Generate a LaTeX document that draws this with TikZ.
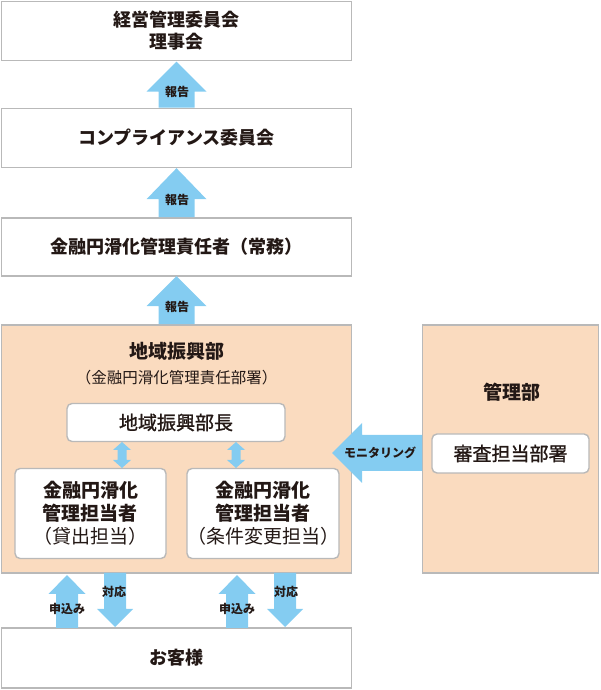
\documentclass[tikz,border=0pt]{standalone}
\usepackage{fontspec}
\setmainfont{Noto Sans CJK JP}
\newfontfamily\jpmed{Noto Sans CJK JP}[FakeBold=1.2]
\usepackage{tikz}

\definecolor{ink}{HTML}{231815}
\definecolor{boxgray}{HTML}{B9B9B9}
\definecolor{peach}{HTML}{FADBBF}
\definecolor{skyarrow}{HTML}{84CCF1}

% block arrows: base, shaft half width, head half width, shaft length, head length
\newcommand{\blkup}[5]{\fill[skyarrow] ([xshift=-#2pt]#1) -- ++(0,#4) -- ++(#2-#3,0) -- ++(#3,#5) -- ++(#3,-#5) -- ++(#2-#3,0) -- ++(0,-#4) -- cycle;}
\newcommand{\blkdown}[5]{\fill[skyarrow] ([xshift=-#2pt]#1) -- ++(0,-#4) -- ++(#2-#3,0) -- ++(#3,-#5) -- ++(#3,#5) -- ++(#2-#3,0) -- ++(0,#4) -- cycle;}
\newcommand{\blkboth}[1]{\fill[skyarrow] (#1,222) -- (#1+9,230) -- (#1+4.5,230) -- (#1+4.5,240) -- (#1+9,240) -- (#1,248) -- (#1-9,240) -- (#1-4.5,240) -- (#1-4.5,230) -- (#1-9,230) -- cycle;}

\begin{document}
\begin{tikzpicture}[x=1pt,y=1pt]
\tikzset{box/.style={draw=boxgray,line width=1.6pt,fill=white,minimum width=350pt,inner sep=0pt,align=center,text=ink,font=\bfseries\fontsize{18}{22}\selectfont},
  rbox/.style={draw=boxgray,line width=1.4pt,fill=white,rounded corners=5pt,inner sep=0pt,align=center,text=ink,font=\fontsize{19}{23}\selectfont},
  dept/.style={draw=boxgray,line width=1.6pt,fill=peach,inner sep=0pt},
  head/.style={text=ink,inner sep=0pt,font=\bfseries\fontsize{19}{23}\selectfont},
  lbl/.style={text=ink,inner sep=0pt,font=\bfseries\fontsize{12}{12}\selectfont}}
\useasboundingbox (0,0) rectangle (600,690);

\node[box,minimum height=59pt] (board) at (176.5,659) {経営管理委員会\\理事会};
\node[box,minimum height=59pt] (comp) at (176.5,552) {コンプライアンス委員会};
\node[box,minimum height=58pt] (resp) at (176.5,443) {金融円滑化管理責任者（常務）};

\node[dept,minimum width=350pt,minimum height=248pt] (region) at (176.5,241) {};
\node[head] (regtitle) at (176.5,339) {地域振興部};
\node[text=ink,inner sep=0pt,font=\fontsize{15.5}{16}\selectfont] (regsub) at (176.5,312) {（金融円滑化管理責任部署）};
\node[rbox,minimum width=218pt,minimum height=38pt] (chief) at (176,267.5) {\jpmed 地域振興部長};
\node[rbox,minimum width=151pt,minimum height=90pt] (loan) at (90.5,176.5) {\bfseries 金融円滑化\\\bfseries 管理担当者\\\mdseries（貸出担当）};
\node[rbox,minimum width=152pt,minimum height=90pt] (cond) at (263,176.5) {\bfseries 金融円滑化\\\bfseries 管理担当者\\\mdseries（条件変更担当）};

\node[dept,minimum width=176pt,minimum height=248pt] (mgmt) at (510.5,241) {};
\node[head] (mgmttitle) at (512,298) {管理部};
\node[rbox,minimum width=157pt,minimum height=39pt] (review) at (510.5,236.5) {\jpmed 審査担当部署};

\node[box,minimum height=60pt] (cust) at (176.5,32) {お客様};

% reports
\blkup{comp.north}{18}{30}{16}{30}
\node[lbl] (rep1) at (177,598) {報告};
\blkup{resp.north}{18}{30}{18}{31}
\node[lbl] (rep2) at (177,490) {報告};
\blkup{region.north}{18}{30}{18}{30}
\node[lbl] (rep3) at (177,383) {報告};

% inside the department
\blkboth{122}
\blkboth{236}

% monitoring
\coordinate (mon) at (422,237);
\fill[skyarrow] ([yshift=-18pt]mon) -- ++(-60,0) -- ++(0,-12) -- ++(-30,30) -- ++(30,30) -- ++(0,-12) -- ++(60,0) -- cycle;
\node[lbl] (monlbl) at (380,237) {モニタリング};

% customers
\coordinate (apply1) at (67,62);
\coordinate (reply1) at (115,117);
\coordinate (apply2) at (237,62);
\coordinate (reply2) at (285,117);
\blkup{apply1}{11}{18.5}{34}{19}
\blkdown{reply1}{11}{18}{36}{18}
\blkup{apply2}{11}{18.5}{34}{19}
\blkdown{reply2}{11}{18}{36}{18}
\node[lbl] (app1) at (67,81) {申込み};
\node[lbl] (rep4) at (114,98) {対応};
\node[lbl] (app2) at (237,81) {申込み};
\node[lbl] (rep5) at (286,98) {対応};

\end{tikzpicture}
\end{document}
